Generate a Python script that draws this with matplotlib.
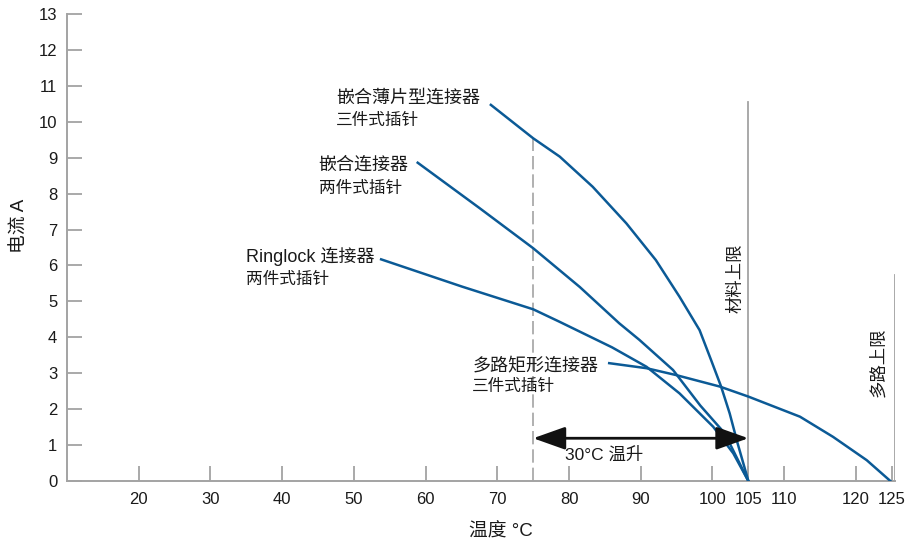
import matplotlib
matplotlib.use("Agg")
import matplotlib.pyplot as plt

plt.rcParams['font.family'] = ['Liberation Sans', 'Noto Sans CJK SC', 'DejaVu Sans']

# 嵌合薄片型连接器 三件式插针
t_thin = [69.1, 75, 78.7, 83.3, 88.0, 92.1, 95.4, 98.2, 99.8, 101.2, 102.4, 103.5, 105]
i_thin = [10.47, 9.54, 9.03, 8.19, 7.17, 6.15, 5.13, 4.2, 3.37, 2.63, 1.88, 1.05, 0]

# 嵌合连接器 两件式插针
t_mate = [58.9, 67.5, 75, 81.5, 87.0, 89.8, 94.5, 98.3, 101.7, 105]
i_mate = [8.86, 7.6, 6.48, 5.4, 4.39, 3.93, 3.09, 2.1, 1.33, 0]

# Ringlock 连接器 两件式插针
t_ring = [53.8, 65.1, 75, 78.7, 86.0, 90.8, 95.4, 100.1, 102.9, 105]
i_ring = [6.17, 5.41, 4.78, 4.43, 3.72, 3.18, 2.44, 1.51, 0.77, 0]

# 多路矩形连接器 三件式插针
t_multi = [85.6, 90.8, 94.9, 101, 105, 112.2, 116.8, 121.5, 124.8]
i_multi = [3.28, 3.14, 2.95, 2.63, 2.35, 1.79, 1.23, 0.58, 0]

x_ticks = [20, 30, 40, 50, 60, 70, 80, 90, 100, 105, 110, 120, 125]
y_ticks = list(range(0, 14))

BLUE = '#0b5a96'
GREY = '#a3a3a3'
TXT = '#1a1a1a'

fig = plt.figure(figsize=(9.16, 5.44), dpi=100)
ax = fig.add_axes([0.0731, 0.1158, 0.9775 - 0.0731, 0.9743 - 0.1158])

for t, i in [(t_thin, i_thin), (t_mate, i_mate), (t_ring, i_ring), (t_multi, i_multi)]:
    ax.plot(t, i, color=BLUE, lw=1.8, solid_joinstyle='round', zorder=3)

# 限制线
ax.plot([105, 105], [0, 10.55], color=GREY, lw=1.3, zorder=2)
ax.plot([125.5, 125.5], [0, 5.73], color=GREY, lw=1.3, zorder=2)
ax.plot([75, 75], [0, 9.55], color=GREY, lw=1.2, dashes=(8, 3), zorder=2)

# 30°C 温升 箭头
ax.annotate('', xy=(105, 1.19), xytext=(75, 1.19),
            arrowprops=dict(arrowstyle='<|-|>,head_length=0.9,head_width=0.32',
                            color='#111111', lw=2, mutation_scale=22,
                            shrinkA=0, shrinkB=0), zorder=4)
ax.text(79.4, 0.72, '30°C 温升', fontsize=12.5, color=TXT, ha='left', va='center')

# 曲线标注
labels = [
    (47.5, 10.66, 10.03, '嵌合薄片型连接器', '三件式插针'),
    (45.1, 8.8, 8.15, '嵌合连接器', '两件式插针'),
    (34.9, 6.24, 5.6, 'Ringlock 连接器', '两件式插针'),
    (66.5, 3.18, 2.63, '多路矩形连接器', '三件式插针'),
]
for x, y1, y2, s1, s2 in labels:
    ax.text(x, y1, s1, fontsize=13, color=TXT, ha='left', va='center')
    ax.text(x, y2, s2, fontsize=12, color=TXT, ha='left', va='center')

ax.text(103.2, 5.65, '材料上限', fontsize=12.5, color=TXT, rotation=90,
        ha='center', va='center')
ax.text(123.1, 3.31, '多路上限', fontsize=12.5, color=TXT, rotation=90,
        ha='center', va='center')

ax.set_xlim(10, 125.5)
ax.set_ylim(0, 13)
ax.set_xticks(x_ticks)
ax.set_yticks(y_ticks)
ax.tick_params(axis='both', direction='in', length=11, width=1.3, color=GREY,
               labelsize=12, labelcolor=TXT, pad=7)
ax.tick_params(axis='x', pad=8)

for side in ['top', 'right']:
    ax.spines[side].set_visible(False)
for side in ['left', 'bottom']:
    ax.spines[side].set_color(GREY)
    ax.spines[side].set_linewidth(1.4)

fig.text(501 / 916, 1 - 532 / 544, '温度 °C', fontsize=13.5, color=TXT,
         ha='center', va='center')
fig.text(20 / 916, 1 - 226 / 544, '电流 A', fontsize=13.5, color=TXT,
         rotation=90, ha='center', va='center')

fig.savefig('out.png', dpi=100)
